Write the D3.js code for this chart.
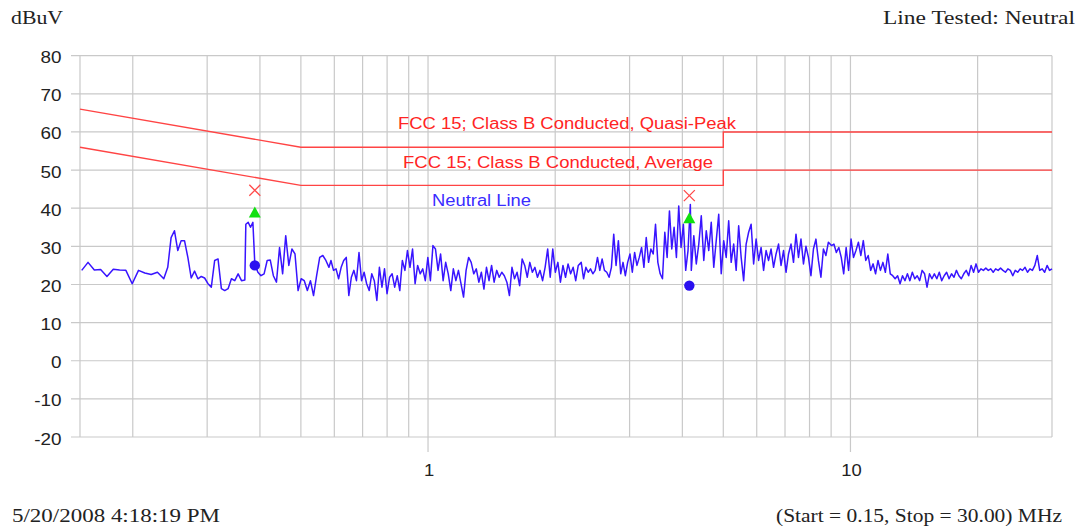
<!DOCTYPE html>
<html>
<head>
<meta charset="utf-8">
<script src="https://cdn.jsdelivr.net/npm/d3@7/dist/d3.min.js"></script>
<style>
  body { margin: 0; background: #fff; }
  svg { display: block; }
</style>
</head>
<body>
<svg id="plotCanvas" width="1092" height="529"></svg>
<script>
// neutral line scan (dBuV), one array per sweep segment
var segA = [23.7,25.8,23.8,23.9,22.1,24.0,23.8,23.7,20.2,23.7,23.0,22.6,23.2,21.5]
var segB1 = [24.5,32.3,34.1,28.9,31.5,31.5,27.1,21.7,23.5,21.5,22.1,21.7,20.2,19.3,26.3,26.7,
             18.9,18.4,18.9,21.5,21.0,22.8,21.0,21.2]
var segB2 = [35.8,36.3,35.0,36.3]
var segB3 = [25.4,23.2,22.3,22.8,26.3,26.4,22.3,20.6,29.7,22.8,32.8,25.0,29.3,28.0,18.4,21.5,
             21.0,18.4,21.0,17.1,22.3,27.1,27.6,26.3,24.5]
var segC1 = [26.3,23.7,24.1,21.5,24.5,26.3,27.1,17.1,21.9,23.7,
             21.0,28.4,21.0,23.2,20.2,18.4,22.8,21.0,15.8,24.5,
             19.3,24.1,17.6,21.9,22.8,19.3,22.3,18.4,26.3,23.7,
             28.9,24.5,29.3,20.2,25.0,22.8,24.1,21.0,27.1,21.0,
             30.2,29.3,23.7,28.0,21.0,25.8,22.8,18.4,24.1,21.0,
             23.7,20.2,16.7,23.7,27.1,25.8,22.8,24.1,20.6,23.2,
             18.8,24.5,21.0,25.0,20.6,23.7,21.9,23.2,22.3,20.6,
             17.1,24.5,21.5,23.2,19.7,26.7,25.0,21.9,25.8,23.2,
             24.5,21.9,23.7,21.0,24.5,29.3,21.9,29.3,23.2,25.8,
             20.6,25.0,21.9,25.4,22.8,24.5,21.0,25.0]
var segC2 = [25.8,21.5,24.5,23.2,24.1,22.8,23.7,27.1,23.7,26.7,
             23.7,23.2,21.9,24.5,33.2,25.0,31.5,22.8,25.8,22.3,
             25.8,28.0,23.2,28.4,25.0,27.1,29.7,24.5,32.3,25.8,
             29.3,28.0,35.8,25.8,22.8,21.5,33.7,27.1,39.3,29.3,
             35.0,27.1,40.6,29.7,35.8,23.7,28.9,41.0]
var segC3 = [23.7,32.8,25.4,30.6,38.0,26.3,34.1,28.9,36.3,24.5,31.5,38.4,
             22.8,31.5,27.1,36.7,25.8,30.6,23.7,35.4,27.1,21.0,
             30.6,33.7,35.8,25.4,31.9,26.3,29.7,23.7,28.9,26.3,
             29.3,24.5,28.0,30.6,25.0,28.9,23.2,28.0,30.6,25.8,
             33.2,27.1,31.9,25.4,30.0,27.1,22.3,29.3,31.9,26.3,
             21.9,29.3,27.6,31.1]
var segC4 = [30.2,30.6,28.4,29.7,27.1,22.8,29.7,23.7,31.9,27.1,
             28.9,31.1,27.6,31.5,26.3,27.6,23.7,25.4,22.8,26.3,
             23.7,25.8,23.2,28.0,22.8,22.3,21.5,22.3,20.2,22.3,
             21.0,22.8,21.0,23.2,21.5,22.3,21.0,23.7,22.8,19.3,
             22.8,21.5,22.8,21.5,23.2,21.0,22.3,23.2,21.5,22.8,
             21.9,23.7,22.3,21.5,22.8,23.7,22.3,25.0,23.2,25.4,
             23.2,24.1,23.7,24.3,23.7,24.1,23.2,24.1,23.7,24.3,
             23.7,23.2,24.1,23.7,22.3,23.7,23.2,24.1,23.7,24.5,
             23.2,24.1,23.7,25.0,27.6,23.7,24.1,23.2,25.0,23.7,
             24.1]

// start / stop frequency (MHz) of each segment, points log spaced in between
var segments = [
  {start: 0.1514, stop: 0.2368, levels: segA},
  {start: 0.2420, stop: 0.3684, levels: segB1},
  {start: 0.3704, stop: 0.3849, levels: segB2},
  {start: 0.3890, stop: 0.5828, levels: segB3},
  {start: 0.5891, stop: 2.268,  levels: segC1},
  {start: 2.305,  stop: 4.178,  levels: segC2},
  {start: 4.200,  stop: 8.867,  levels: segC3},
  {start: 9.016,  stop: 30.0,   levels: segC4}
]

// FCC 15 class B conducted limits
var qpLimit = [[0.15, 66], [0.5, 56], [5, 56], [5, 60], [30, 60]]
var avgLimit = [[0.15, 56], [0.5, 46], [5, 46], [5, 50], [30, 50]]

// final measurement markers
var peakMarks = [[0.389, 44.7], [4.155, 43.3]]
var qpMarks = [[0.389, 38.9], [4.155, 37.4]]
var avgMarks = [[0.389, 25.0], [4.155, 19.7]]

var yTicks = [-20, -10, 0, 10, 20, 30, 40, 50, 60, 70, 80]
var xLabels = [1, 10]

var margin = {top: 55.7, right: 40, bottom: 92, left: 80}
var W = 1092, H = 529
var svg = d3.select("#plotCanvas")

var xScale = d3.scaleLog().domain([0.15, 30]).range([margin.left, W - margin.right])
var yScale = d3.scaleLinear().domain([-20, 80]).range([H - margin.bottom, margin.top])

var gridColor = "#c9c9c9"
var x0 = xScale.range()[0], x1 = xScale.range()[1]
var y0 = yScale.range()[0], y1 = yScale.range()[1]

// horizontal grid + small ticks on the left
svg.append("g").selectAll("line")
   .data(yTicks)
   .join("line")
   .attr("x1", x0 - 9).attr("x2", x1)
   .attr("y1", function (d) { return yScale(d) })
   .attr("y2", function (d) { return yScale(d) })
   .attr("stroke", gridColor).attr("stroke-width", 1.2)

// vertical grid (log decades), ticks at labelled decades
var xGrid = [0.15].concat(xScale.ticks())
svg.append("g").selectAll("line")
   .data(xGrid)
   .join("line")
   .attr("x1", function (d) { return xScale(d) })
   .attr("x2", function (d) { return xScale(d) })
   .attr("y1", y1)
   .attr("y2", function (d) { return xLabels.indexOf(d) >= 0 ? y0 + 15 : y0 })
   .attr("stroke", gridColor).attr("stroke-width", 1.2)

// tick labels (the source image is a little stretched sideways)
svg.append("g").selectAll("text")
   .data(yTicks)
   .join("text")
   .attr("transform", function (d) { return "translate(61.5," + (yScale(d) + 7.5) + ") scale(1.18,1)" })
   .attr("text-anchor", "end")
   .style("font", "16px 'Liberation Sans', Arial, sans-serif")
   .attr("fill", "#222")
   .text(function (d) { return d })

svg.append("g").selectAll("text")
   .data(xLabels)
   .join("text")
   .attr("transform", function (d) { return "translate(" + (xScale(d) + 1) + ",476) scale(1.15,1)" })
   .attr("text-anchor", "middle")
   .style("font", "16px 'Liberation Sans', Arial, sans-serif")
   .attr("fill", "#222")
   .text(function (d) { return d })

// limit lines
var limLine = d3.line()
   .x(function (d) { return xScale(d[0]) })
   .y(function (d) { return yScale(d[1]) })

;[qpLimit, avgLimit].forEach(function (lim) {
  svg.append("path")
     .attr("d", limLine(lim))
     .attr("fill", "none")
     .attr("stroke", "#ff4444")
     .attr("stroke-width", 1.4)
})

// trace
var tracePts = []
segments.forEach(function (s) {
  var n = s.levels.length
  s.levels.forEach(function (v, i) {
    var f = n > 1 ? s.start * Math.pow(s.stop / s.start, i / (n - 1)) : s.start
    tracePts.push([f, v])
  })
})

svg.append("path")
   .attr("d", limLine(tracePts))
   .attr("fill", "none")
   .attr("stroke", "#3814ff")
   .attr("stroke-width", 1.5)
   .attr("stroke-linejoin", "round")

// markers
svg.append("g").selectAll("path")
   .data(peakMarks)
   .join("path")
   .attr("d", function (d) {
      var cx = xScale(d[0]), cy = yScale(d[1]), r = 5.5
      return "M" + (cx - r) + "," + (cy - r) + "L" + (cx + r) + "," + (cy + r) +
             "M" + (cx - r) + "," + (cy + r) + "L" + (cx + r) + "," + (cy - r)
   })
   .attr("stroke", "#ff4a4a").attr("stroke-width", 1.3).attr("fill", "none")

svg.append("g").selectAll("path")
   .data(qpMarks)
   .join("path")
   .attr("d", function (d) {
      var cx = xScale(d[0]), cy = yScale(d[1])
      return "M" + cx + "," + (cy - 6) + "L" + (cx + 6) + "," + (cy + 5) + "L" + (cx - 6) + "," + (cy + 5) + "Z"
   })
   .attr("fill", "#10e010")

svg.append("g").selectAll("circle")
   .data(avgMarks)
   .join("circle")
   .attr("cx", function (d) { return xScale(d[0]) })
   .attr("cy", function (d) { return yScale(d[1]) })
   .attr("r", 5.2)
   .attr("fill", "#2a10f0")

// annotations and page texts
function label(x, y, str, width, font, color) {
  svg.append("text")
     .attr("x", x).attr("y", y)
     .attr("textLength", width)
     .attr("lengthAdjust", "spacingAndGlyphs")
     .style("font", font)
     .attr("fill", color)
     .text(str)
}

var sans = "16px 'Liberation Sans', Arial, sans-serif"
var serif = "19px 'Liberation Serif', 'Times New Roman', serif"

label(398, 129.3, "FCC 15; Class B Conducted, Quasi-Peak", 338, sans, "#ff2424")
label(403, 168, "FCC 15; Class B Conducted, Average", 310, sans, "#ff2424")
label(432, 206, "Neutral Line", 99, sans, "#3a2cff")

label(11, 24, "dBuV", 52, serif, "#222")
label(883, 24, "Line Tested: Neutral", 192, serif, "#222")
label(12, 521.5, "5/20/2008 4:18:19 PM", 208, serif, "#222")
label(776, 521.5, "(Start = 0.15, Stop = 30.00) MHz", 286, serif, "#222")
</script>
</body>
</html>
